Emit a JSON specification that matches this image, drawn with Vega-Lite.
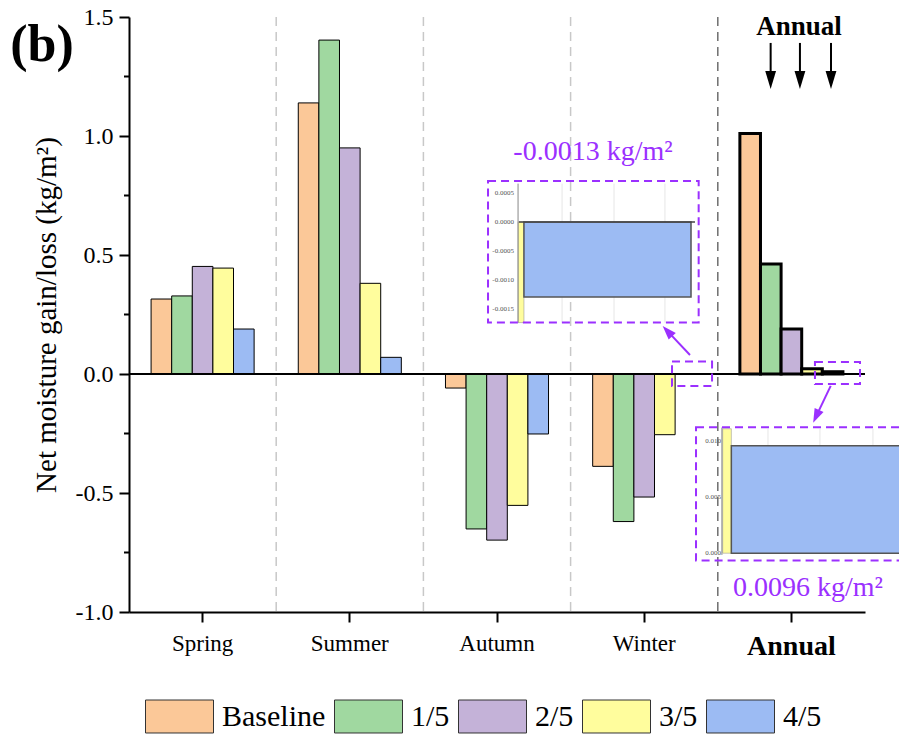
{
  "$schema": "https://vega.github.io/schema/vega-lite/v6.json",
  "autosize": {"type": "none"},
  "padding": {"left": 129, "top": 17, "right": 34, "bottom": 124},
  "width": 736,
  "height": 595,
  "config": {
    "view": {"stroke": null},
    "font": "Liberation Serif, Times New Roman, serif",
    "text": {"font": "Liberation Serif, Times New Roman, serif"},
    "axis": {"labelFont": "Liberation Serif, Times New Roman, serif", "titleFont": "Liberation Serif, Times New Roman, serif", "labelColor": "black", "titleColor": "black", "domainColor": "black", "tickColor": "black"},
    "legend": {"labelFont": "Liberation Serif, Times New Roman, serif"}
  },
  "datasets": {
    "bars": [
      {"season": "Spring", "scenario": "Baseline", "value": 0.315},
      {"season": "Spring", "scenario": "1/5", "value": 0.328},
      {"season": "Spring", "scenario": "2/5", "value": 0.452},
      {"season": "Spring", "scenario": "3/5", "value": 0.445},
      {"season": "Spring", "scenario": "4/5", "value": 0.189},
      {"season": "Summer", "scenario": "Baseline", "value": 1.139},
      {"season": "Summer", "scenario": "1/5", "value": 1.403},
      {"season": "Summer", "scenario": "2/5", "value": 0.95},
      {"season": "Summer", "scenario": "3/5", "value": 0.381},
      {"season": "Summer", "scenario": "4/5", "value": 0.07},
      {"season": "Autumn", "scenario": "Baseline", "value": -0.059},
      {"season": "Autumn", "scenario": "1/5", "value": -0.651},
      {"season": "Autumn", "scenario": "2/5", "value": -0.698},
      {"season": "Autumn", "scenario": "3/5", "value": -0.552},
      {"season": "Autumn", "scenario": "4/5", "value": -0.252},
      {"season": "Winter", "scenario": "Baseline", "value": -0.388},
      {"season": "Winter", "scenario": "1/5", "value": -0.62},
      {"season": "Winter", "scenario": "2/5", "value": -0.517},
      {"season": "Winter", "scenario": "3/5", "value": -0.255},
      {"season": "Winter", "scenario": "4/5", "value": -0.0013},
      {"season": "Annual", "scenario": "Baseline", "value": 1.01},
      {"season": "Annual", "scenario": "1/5", "value": 0.462},
      {"season": "Annual", "scenario": "2/5", "value": 0.189},
      {"season": "Annual", "scenario": "3/5", "value": 0.022},
      {"season": "Annual", "scenario": "4/5", "value": 0.0096}
    ],
    "seps": [
      {"ax": 1, "kind": "light"},
      {"ax": 2, "kind": "light"},
      {"ax": 3, "kind": "light"},
      {"ax": 4, "kind": "dark"}
    ],
    "minorTicks": [
      {"ax": -0.034, "ax2": 0, "ay": -0.75},
      {"ax": -0.034, "ax2": 0, "ay": -0.25},
      {"ax": -0.034, "ax2": 0, "ay": 0.25},
      {"ax": -0.034, "ax2": 0, "ay": 0.75},
      {"ax": -0.034, "ax2": 0, "ay": 1.25}
    ],
    "insetGrid": [
      {"ax": 2.942, "ay": 0.8, "ay2": 0.216},
      {"ax": 3.295, "ay": 0.8, "ay2": 0.216},
      {"ax": 3.641, "ay": 0.8, "ay2": 0.216},
      {"ax": 4.341, "ay": -0.23, "ay2": -0.753},
      {"ax": 4.694, "ay": -0.23, "ay2": -0.753},
      {"ax": 5.054, "ay": -0.23, "ay2": -0.753}
    ],
    "insetYellow": [
      {"ax": 2.643, "ax2": 2.683, "ay": 0.639, "ay2": 0.216},
      {"ax": 4.033, "ax2": 4.092, "ay": -0.23, "ay2": -0.753}
    ],
    "insetBlue": [
      {"ax": 2.683, "ax2": 3.818, "ay": 0.639, "ay2": 0.324},
      {"ax": 4.092, "ax2": 5.35, "ay": -0.301, "ay2": -0.753}
    ],
    "insetAxis": [
      {"ax": 2.643, "ay": 0.8, "ay2": 0.216},
      {"ax": 4.028, "ay": -0.225, "ay2": -0.76}
    ],
    "insetZero": [
      {"ax": 2.649, "ax2": 3.845, "ay": 0.639, "ay2": 0.639}
    ],
    "insetLabels": [
      {"ax": 2.615, "ay": 0.761, "label": "0.0005"},
      {"ax": 2.615, "ay": 0.639, "label": "0.0000"},
      {"ax": 2.615, "ay": 0.517, "label": "-0.0005"},
      {"ax": 2.615, "ay": 0.395, "label": "-0.0010"},
      {"ax": 2.615, "ay": 0.273, "label": "-0.0015"},
      {"ax": 4.022, "ay": -0.28, "label": "0.010"},
      {"ax": 4.022, "ay": -0.518, "label": "0.005"},
      {"ax": 4.022, "ay": -0.753, "label": "0.000"}
    ],
    "boxes": [
      {"ax": 2.439, "ax2": 3.87, "ay": 0.811, "ay2": 0.216},
      {"ax": 3.852, "ax2": 5.3, "ay": -0.224, "ay2": -0.784},
      {"ax": 3.689, "ax2": 3.961, "ay": 0.052, "ay2": -0.05},
      {"ax": 4.66, "ax2": 4.966, "ay": 0.05, "ay2": -0.042}
    ],
    "purpleArrows": [
      {"ax": 3.811, "ay": 0.08, "ax2": 3.658, "ay2": 0.18, "angle": 137},
      {"ax": 4.767, "ay": -0.05, "ax2": 4.668, "ay2": -0.178, "angle": 25}
    ],
    "blackArrows": [
      {"ax": 4.359, "ay": 1.391, "ay2": 1.235},
      {"ax": 4.558, "ay": 1.391, "ay2": 1.235},
      {"ax": 4.769, "ay": 1.391, "ay2": 1.235}
    ],
    "purpleText": [
      {"ax": 3.152, "ay": 0.933, "label": "-0.0013 kg/m²"},
      {"ax": 4.613, "ay": -0.899, "label": "0.0096 kg/m²"}
    ],
    "panelLabel": [{"ax": -0.591, "ay": 1.382, "label": "(b)"}],
    "annualTitle": [{"ax": 4.552, "ay": 1.458, "label": "Annual"}]
  },
  "layer": [
    {
      "data": {"name": "bars"},
      "layer": [
        {
          "mark": {"type": "bar", "stroke": "black", "clip": false},
          "encoding": {
            "x": {
              "field": "season", "type": "nominal",
              "sort": ["Spring", "Summer", "Autumn", "Winter", "Annual"],
              "scale": {"paddingInner": 0.3, "paddingOuter": 0.15},
              "axis": {
                "title": null, "labelAngle": 0,
                "labelFontSize": {"condition": {"test": "datum.value === 'Annual'", "value": 28}, "value": 23},
                "labelFontWeight": {"condition": {"test": "datum.value === 'Annual'", "value": "bold"}, "value": "normal"},
                "labelPadding": 10, "tickSize": 10, "tickWidth": 2, "domainWidth": 2, "grid": false
              }
            },
            "xOffset": {
              "field": "scenario", "type": "nominal",
              "sort": ["Baseline", "1/5", "2/5", "3/5", "4/5"],
              "scale": {"paddingInner": 0, "paddingOuter": 0}
            },
            "y": {
              "field": "value", "type": "quantitative",
              "scale": {"domain": [-1, 1.5], "nice": false, "zero": false},
              "axis": {
                "title": "Net moisture gain/loss (kg/m²)", "titleFontSize": 29, "titleFontWeight": "normal", "titlePadding": 14,
                "values": [-1, -0.5, 0, 0.5, 1, 1.5],
                "labelExpr": "datum.value < 0 ? '-' + format(-datum.value, '.1f') : format(datum.value, '.1f')",
                "labelFontSize": 24, "labelPadding": 6, "tickSize": 10, "tickWidth": 2, "domainWidth": 2, "grid": false
              }
            },
            "fill": {
              "field": "scenario", "type": "nominal",
              "sort": ["Baseline", "1/5", "2/5", "3/5", "4/5"],
              "scale": {"domain": ["Baseline", "1/5", "2/5", "3/5", "4/5"], "range": ["#FBC898", "#A0D8A0", "#C4B2D8", "#FFFD9D", "#9CBBF3"]},
              "legend": {
                "title": null, "orient": "none", "direction": "horizontal", "columns": 5,
                "legendX": 16, "legendY": 665, "padding": 0,
                "symbolType": "M-1,-0.485H1V0.485H-1Z", "symbolSize": 4624,
                "symbolStrokeColor": "#333", "symbolStrokeWidth": 1,
                "labelFontSize": 30, "labelColor": "black", "labelOffset": 8, "columnPadding": 6
              }
            },
            "strokeWidth": {"condition": {"test": "datum.season === 'Annual'", "value": 3}, "value": 1}
          }
        },
        {
          "mark": {"type": "rule", "color": "black", "strokeWidth": 2},
          "encoding": {"y": {"datum": 0, "type": "quantitative"}}
        }
      ]
    },
    {
      "layer": [
        {
          "data": {"name": "seps"},
          "mark": {"type": "rule", "strokeWidth": 1.5, "strokeDash": [9, 6]},
          "encoding": {
            "x": {"field": "ax", "type": "quantitative", "scale": {"domain": [0, 5], "nice": false, "zero": false}, "axis": null},
            "color": {"field": "kind", "type": "nominal", "scale": {"domain": ["light", "dark"], "range": ["#c8c8c8", "#6e6e6e"]}, "legend": null}
          }
        },
        {
          "data": {"name": "minorTicks"},
          "mark": {"type": "rule", "color": "black", "strokeWidth": 2},
          "encoding": {
            "x": {"field": "ax", "type": "quantitative", "scale": {"domain": [0, 5], "nice": false, "zero": false}, "axis": null},
            "x2": {"field": "ax2"},
            "y": {"field": "ay", "type": "quantitative", "scale": {"domain": [-1, 1.5], "nice": false, "zero": false}, "axis": null}
          }
        },
        {
          "data": {"name": "insetGrid"},
          "mark": {"type": "rule", "color": "#e6e6e6", "strokeWidth": 1},
          "encoding": {
            "x": {"field": "ax", "type": "quantitative", "axis": null},
            "y": {"field": "ay", "type": "quantitative", "axis": null},
            "y2": {"field": "ay2"}
          }
        },
        {
          "data": {"name": "insetYellow"},
          "mark": {"type": "rect", "fill": "#FFFD9D", "stroke": "#888", "strokeWidth": 0.5},
          "encoding": {
            "x": {"field": "ax", "type": "quantitative", "axis": null},
            "x2": {"field": "ax2"},
            "y": {"field": "ay", "type": "quantitative", "axis": null},
            "y2": {"field": "ay2"}
          }
        },
        {
          "data": {"name": "insetBlue"},
          "mark": {"type": "rect", "fill": "#9CBBF3", "stroke": "#555", "strokeWidth": 1.5},
          "encoding": {
            "x": {"field": "ax", "type": "quantitative", "axis": null},
            "x2": {"field": "ax2"},
            "y": {"field": "ay", "type": "quantitative", "axis": null},
            "y2": {"field": "ay2"}
          }
        },
        {
          "data": {"name": "insetAxis"},
          "mark": {"type": "rule", "color": "#888", "strokeWidth": 1},
          "encoding": {
            "x": {"field": "ax", "type": "quantitative", "axis": null},
            "y": {"field": "ay", "type": "quantitative", "axis": null},
            "y2": {"field": "ay2"}
          }
        },
        {
          "data": {"name": "insetZero"},
          "mark": {"type": "rule", "color": "#444", "strokeWidth": 1.5},
          "encoding": {
            "x": {"field": "ax", "type": "quantitative", "axis": null},
            "x2": {"field": "ax2"},
            "y": {"field": "ay", "type": "quantitative", "axis": null}
          }
        },
        {
          "data": {"name": "insetLabels"},
          "mark": {"type": "text", "fontSize": 7, "color": "#555", "align": "right", "baseline": "middle"},
          "encoding": {
            "x": {"field": "ax", "type": "quantitative", "axis": null},
            "y": {"field": "ay", "type": "quantitative", "axis": null},
            "text": {"field": "label"}
          }
        },
        {
          "data": {"name": "boxes"},
          "mark": {"type": "rect", "fill": null, "fillOpacity": 0, "stroke": "#9B30FF", "strokeWidth": 2, "strokeDash": [8, 5]},
          "encoding": {
            "x": {"field": "ax", "type": "quantitative", "axis": null},
            "x2": {"field": "ax2"},
            "y": {"field": "ay", "type": "quantitative", "axis": null},
            "y2": {"field": "ay2"}
          }
        },
        {
          "data": {"name": "purpleArrows"},
          "mark": {"type": "rule", "color": "#9B30FF", "strokeWidth": 2},
          "encoding": {
            "x": {"field": "ax", "type": "quantitative", "axis": null},
            "x2": {"field": "ax2"},
            "y": {"field": "ay", "type": "quantitative", "axis": null},
            "y2": {"field": "ay2"}
          }
        },
        {
          "data": {"name": "purpleArrows"},
          "mark": {"type": "point", "shape": "M0,1L-0.7,-1L0.7,-1Z", "size": 196, "filled": true, "color": "#9B30FF", "opacity": 1},
          "encoding": {
            "x": {"field": "ax2", "type": "quantitative", "axis": null},
            "y": {"field": "ay2", "type": "quantitative", "axis": null},
            "angle": {"field": "angle", "type": "quantitative", "scale": null}
          }
        },
        {
          "data": {"name": "blackArrows"},
          "mark": {"type": "rule", "color": "black", "strokeWidth": 2},
          "encoding": {
            "x": {"field": "ax", "type": "quantitative", "axis": null},
            "y": {"field": "ay", "type": "quantitative", "axis": null},
            "y2": {"field": "ay2"}
          }
        },
        {
          "data": {"name": "blackArrows"},
          "mark": {"type": "point", "shape": "M0,1L-0.6,-1L0.6,-1Z", "size": 324, "filled": true, "color": "black", "opacity": 1},
          "encoding": {
            "x": {"field": "ax", "type": "quantitative", "axis": null},
            "y": {"field": "ay2", "type": "quantitative", "axis": null}
          }
        },
        {
          "data": {"name": "purpleText"},
          "mark": {"type": "text", "fontSize": 28, "color": "#9B30FF", "align": "center", "baseline": "middle"},
          "encoding": {
            "x": {"field": "ax", "type": "quantitative", "axis": null},
            "y": {"field": "ay", "type": "quantitative", "axis": null},
            "text": {"field": "label"}
          }
        },
        {
          "data": {"name": "panelLabel"},
          "mark": {"type": "text", "fontSize": 52, "fontWeight": "bold", "color": "black", "align": "center", "baseline": "middle"},
          "encoding": {
            "x": {"field": "ax", "type": "quantitative", "axis": null},
            "y": {"field": "ay", "type": "quantitative", "axis": null},
            "text": {"field": "label"}
          }
        },
        {
          "data": {"name": "annualTitle"},
          "mark": {"type": "text", "fontSize": 27, "fontWeight": "bold", "color": "black", "align": "center", "baseline": "middle"},
          "encoding": {
            "x": {"field": "ax", "type": "quantitative", "axis": null},
            "y": {"field": "ay", "type": "quantitative", "axis": null},
            "text": {"field": "label"}
          }
        }
      ]
    }
  ],
  "resolve": {"scale": {"x": "independent", "y": "independent", "color": "independent", "fill": "independent"}}
}
